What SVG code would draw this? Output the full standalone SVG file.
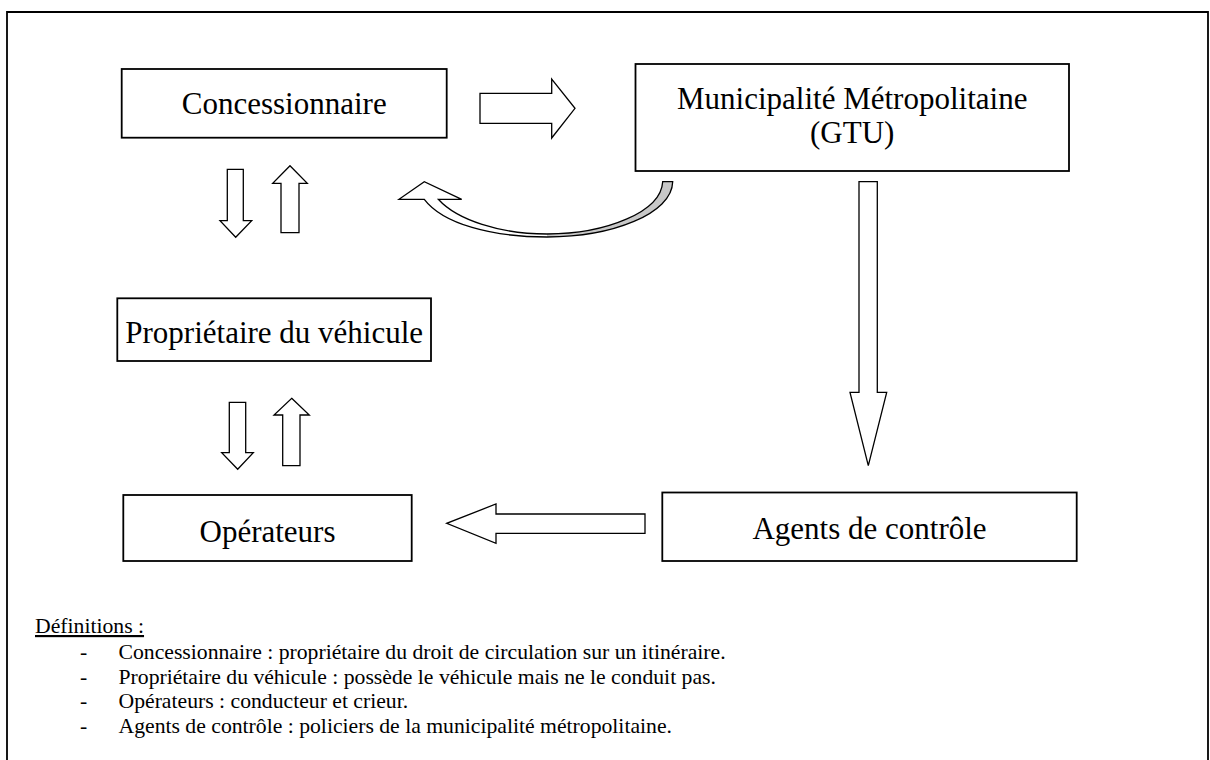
<svg xmlns="http://www.w3.org/2000/svg" width="1210" height="760" viewBox="0 0 1210 760">
<style>
.box{fill:#fff;stroke:#000;stroke-width:1.8}
.arr{fill:#fff;stroke:#000;stroke-width:1.3;stroke-linejoin:miter}
.lbl{font-family:"Liberation Serif","Times New Roman",serif;font-size:31px;fill:#000;text-anchor:middle}
.def{font-family:"Liberation Serif","Times New Roman",serif;font-size:21.7px;fill:#000}
</style>
<rect width="1210" height="760" fill="#fff"/>
<path id="frame" d="M7,770 V12 H1208 V770" fill="none" stroke="#000" stroke-width="1.8"/>

<g id="concessionnaire">
<rect class="box" x="121.7" y="69" width="325" height="68.7"/>
<text class="lbl" x="284.2" y="114">Concessionnaire</text>
</g>
<g id="municipalite">
<rect class="box" x="635.5" y="64" width="433.5" height="107"/>
<text class="lbl" x="852.2" y="108.5">Municipalité Métropolitaine</text>
<text class="lbl" x="852.2" y="143">(GTU)</text>
</g>
<g id="proprietaire">
<rect class="box" x="117.3" y="298.3" width="313.7" height="62.7"/>
<text class="lbl" x="274.2" y="343">Propriétaire du véhicule</text>
</g>
<g id="operateurs">
<rect class="box" x="123.3" y="495" width="288.4" height="66"/>
<text class="lbl" x="267.5" y="541.5">Opérateurs</text>
</g>
<g id="agents">
<rect class="box" x="662.3" y="492.5" width="414.4" height="68.5"/>
<text class="lbl" x="869.5" y="538.5">Agents de contrôle</text>
</g>

<g id="connectors">
<polygon class="arr" points="480,93.3 551.7,93.3 551.7,79 575,108.3 551.7,138 551.7,123.3 480,123.3"/>
<polygon class="arr" points="227.3,169.3 243.3,169.3 243.3,220.7 251.7,220.7 235.7,237.3 220,220.7 227.3,220.7"/>
<polygon class="arr" points="290,165.7 307.3,183.3 299,183.3 299,232.7 281,232.7 281,183.3 272.7,183.3"/>
<polygon class="arr" points="229.3,402.3 245.7,402.3 245.7,452.7 253.3,452.7 237.7,469.3 221.7,452.7 229.3,452.7"/>
<polygon class="arr" points="291.7,398.3 309.3,415 300,415 300,465.7 282.7,465.7 282.7,415 274,415"/>
<polygon class="arr" points="859,181.7 877.3,181.7 877.3,392.3 886.7,392.3 868.3,465.7 850,392.3 859,392.3"/>
<polygon class="arr" points="645,514 645,533.3 496,533.3 496,543.3 446.7,523.3 496,504 496,514"/>
<g id="curved">
<path d="M672.7,181.7 C672,214 612,237 547,237 L547,234 C606,234 661,212 662.7,181.7 Z" fill="#c8c8c8" stroke="none"/>
<path d="M547,237 C492,237 443,224 424.3,199.3 L438.3,199.3 C457,220 500,234 547,234 Z" fill="#fff" stroke="none"/>
<path class="arr" d="M662.7,181.7 L672.7,181.7 C672,214 612,237 547,237 C492,237 443,224 424.3,199.3 L399,199.3 L424.3,181.7 L461.7,199.3 L438.3,199.3 C457,220 500,234 547,234 C606,234 661,212 662.7,181.7 Z" style="fill:none"/>
</g>
</g>

<g id="definitions">
<text class="def" x="35" y="633" text-decoration="underline">Définitions :</text>
<text class="def" x="80" y="659">-</text>
<text class="def" x="118.5" y="659">Concessionnaire : propriétaire du droit de circulation sur un itinéraire.</text>
<text class="def" x="80" y="683.5">-</text>
<text class="def" x="118.5" y="683.5">Propriétaire du véhicule : possède le véhicule mais ne le conduit pas.</text>
<text class="def" x="80" y="708">-</text>
<text class="def" x="118.5" y="708">Opérateurs : conducteur et crieur.</text>
<text class="def" x="80" y="732.5">-</text>
<text class="def" x="118.5" y="732.5">Agents de contrôle : policiers de la municipalité métropolitaine.</text>
</g>
</svg>
